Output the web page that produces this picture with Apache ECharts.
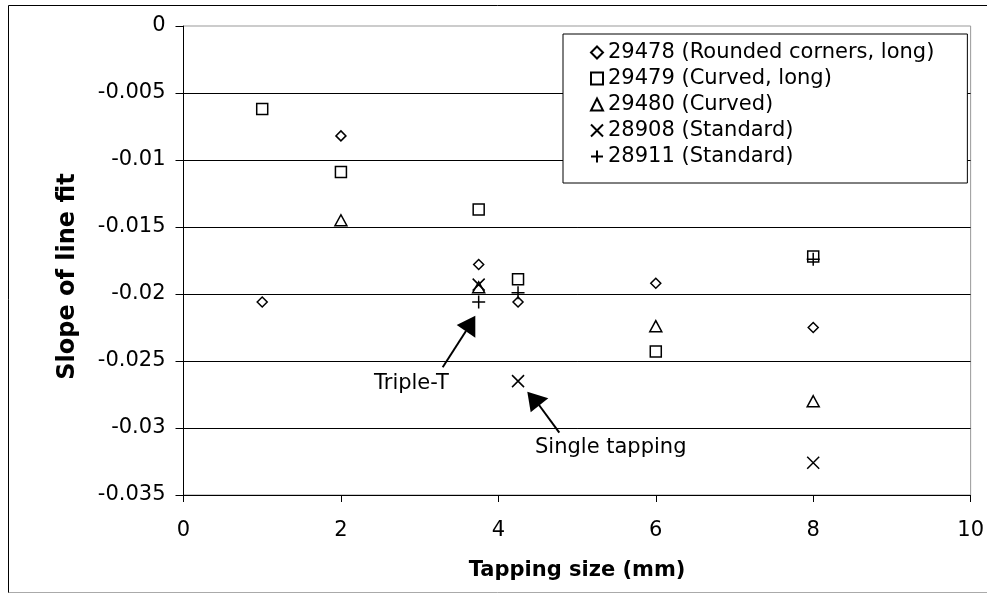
<html>
<head>
<meta charset="UTF-8">
<title>Slope of line fit</title>
<script src="https://cdn.jsdelivr.net/npm/echarts@6/dist/echarts.min.js"></script>
<style>
  body { margin: 0; background: #fff; }
</style>
</head>
<body>
<div id="main" style="width: 987px;height:594px;"></div>

<script type="text/javascript">
// values
var names = ['29478 (Rounded corners, long)', '29479 (Curved, long)', '29480 (Curved)', '28908 (Standard)', '28911 (Standard)'];

var x29478 = [1, 2, 3.75, 4.25, 6, 8];
var y29478 = [-0.0206, -0.0082, -0.0178, -0.0206, -0.0192, -0.0225];

var x29479 = [1, 2, 3.75, 4.25, 6, 8];
var y29479 = [-0.0062, -0.0109, -0.0137, -0.0189, -0.0243, -0.0172];

var x29480 = [2, 3.75, 6, 8];
var y29480 = [-0.0145, -0.0195, -0.0224, -0.0280];

var x28908 = [3.75, 4.25, 8];
var y28908 = [-0.0193, -0.0265, -0.0326];

var x28911 = [3.75, 4.25, 8];
var y28911 = [-0.0206, -0.0199, -0.0174];

var xTicks = [0, 2, 4, 6, 8, 10];
var yTicks = [0, -0.005, -0.01, -0.015, -0.02, -0.025, -0.03, -0.035];

var FONT = 'DejaVu Sans';

function pairs(xs, ys) {
    var out = [];
    for (var i = 0; i < xs.length; i++) out.push([xs[i], ys[i]]);
    return out;
}

function series(name, xs, ys, symbol, size) {
    return {
        name: name,
        type: 'scatter',
        symbol: symbol,
        symbolSize: size,
        data: pairs(xs, ys),
        itemStyle: { color: 'rgba(0,0,0,0)', borderColor: '#000', borderWidth: 1.5, opacity: 1 },
        emphasis: { disabled: true }
    };
}

var myChart = echarts.init(document.getElementById('main'));

var option = {
    animation: false,
    backgroundColor: '#fff',
    textStyle: { fontFamily: FONT, color: '#000' },
    grid: {
        left: 183.5, right: 15, top: 26, bottom: 99,
        show: true, borderColor: '#999', borderWidth: 1, backgroundColor: '#fff'
    },
    legend: {
        orient: 'vertical',
        left: 563, top: 34,
        padding: [6, 33, 14, 27],
        backgroundColor: '#fff',
        borderColor: '#000', borderWidth: 1,
        itemWidth: 12, itemHeight: 12, itemGap: 1, itemTextGap: 7,
        selectedMode: false,
        textStyle: { fontFamily: FONT, fontSize: 21, color: '#000', lineHeight: 25 },
        data: names
    },
    xAxis: {
        type: 'value',
        min: xTicks[0], max: xTicks[xTicks.length - 1], interval: 2,
        name: 'Tapping size (mm)',
        nameLocation: 'middle', nameGap: 65,
        nameTextStyle: { fontFamily: FONT, fontSize: 21, fontWeight: 'bold', color: '#000' },
        axisLine: { onZero: false, lineStyle: { color: '#000', width: 1 } },
        axisTick: { show: true, length: 7, inside: false, lineStyle: { color: '#000' } },
        axisLabel: { fontFamily: FONT, fontSize: 21, color: '#000', margin: 25 },
        splitLine: { show: false }
    },
    yAxis: {
        type: 'value',
        min: yTicks[yTicks.length - 1], max: yTicks[0], interval: 0.005,
        axisLine: { show: true, onZero: false, lineStyle: { color: '#000', width: 1 } },
        axisTick: { show: true, length: 8, lineStyle: { color: '#000' } },
        axisLabel: {
            fontFamily: FONT, fontSize: 21, color: '#000', margin: 18,
            formatter: function (v) { return String(parseFloat(v.toFixed(3))); }
        },
        splitLine: { show: true, showMaxLine: false, lineStyle: { color: '#000', width: 1 } }
    },
    series: [
        series(names[0], x29478, y29478, 'diamond', 10),
        series(names[1], x29479, y29479, 'rect', 11),
        series(names[2], x29480, y29480, 'triangle', [12, 11]),
        series(names[3], x28908, y28908, 'path://M0,0L10,10M10,0L0,10', 12),
        series(names[4], x28911, y28911, 'path://M5,0L5,10M0,5L10,5', 13)
    ],
    graphic: [
        // outer chart frame
        { type: 'line', shape: { x1: 8.5, y1: 5.5, x2: 987, y2: 5.5 }, style: { stroke: '#000', lineWidth: 1 } },
        { type: 'line', shape: { x1: 8.5, y1: 5.5, x2: 8.5, y2: 593 }, style: { stroke: '#000', lineWidth: 1 } },
        { type: 'line', shape: { x1: 8.5, y1: 592.5, x2: 987, y2: 592.5 }, style: { stroke: '#aaa', lineWidth: 1 } },
        // y axis title (sits a little below the plot middle in the original)
        {
            type: 'text', x: 68, y: 276.5, rotation: Math.PI / 2,
            style: { text: 'Slope of line fit', font: 'bold 24px "DejaVu Sans"', fill: '#000', align: 'center', verticalAlign: 'middle' }
        },
        // annotations
        { type: 'text', left: 374, top: 373, style: { text: 'Triple-T', font: '21px "DejaVu Sans"', fill: '#000' } },
        { type: 'line', shape: { x1: 442.7, y1: 367.3, x2: 466, y2: 331 }, style: { stroke: '#000', lineWidth: 2 } },
        { type: 'polygon', shape: { points: [[475.3, 315.7], [456.7, 325], [475.3, 337.7]] }, style: { fill: '#000' } },
        { type: 'text', left: 535, top: 437, style: { text: 'Single tapping', font: '21px "DejaVu Sans"', fill: '#000' } },
        { type: 'line', shape: { x1: 559.3, y1: 432.7, x2: 539, y2: 405 }, style: { stroke: '#000', lineWidth: 2 } },
        { type: 'polygon', shape: { points: [[527.3, 391.7], [548.3, 398.3], [530.7, 412.3]] }, style: { fill: '#000' } }
    ]
};
myChart.setOption(option);
</script>
</body>
</html>
